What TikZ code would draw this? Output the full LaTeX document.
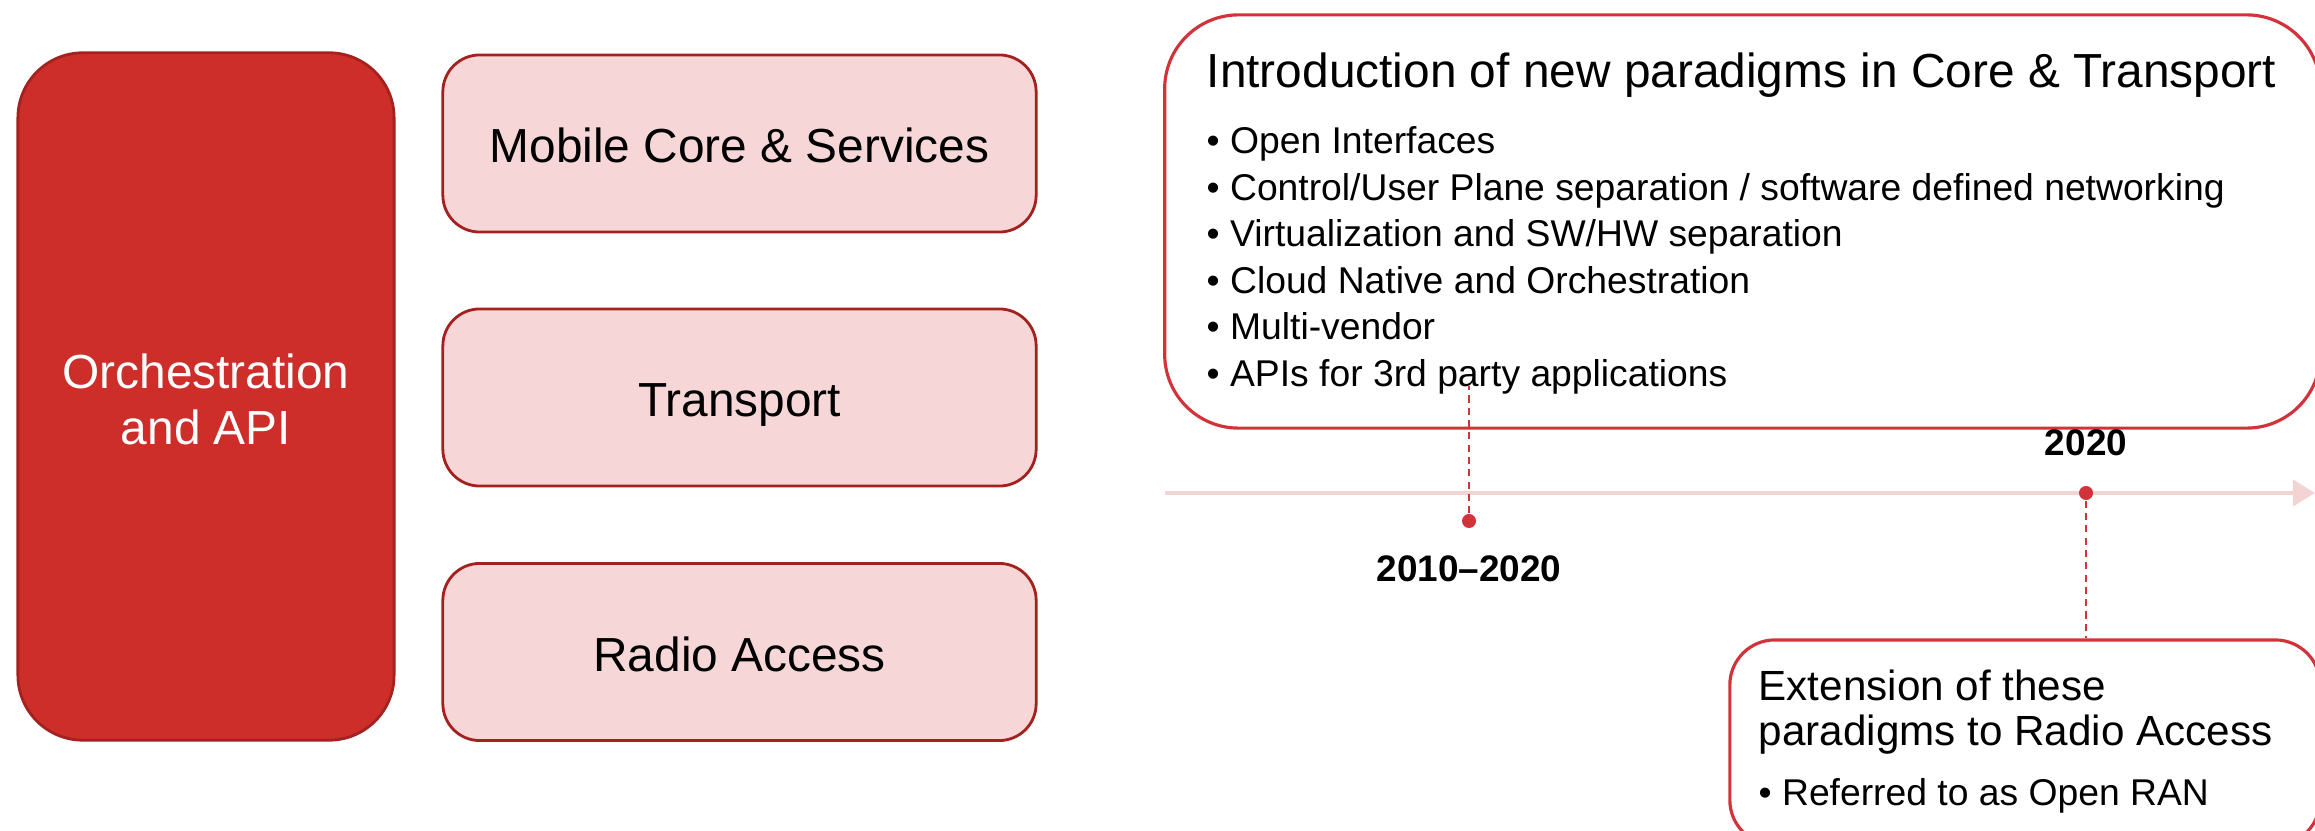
\documentclass[tikz,border=0pt]{standalone}
\usepackage{fontspec}
\setmainfont{Liberation Sans}
\usetikzlibrary{positioning,arrows.meta}
\definecolor{oranred}{HTML}{CD2E2A}
\definecolor{orandark}{HTML}{A32220}
\definecolor{oranpink}{HTML}{F6D6D6}
\definecolor{oranline}{HTML}{D2333A}
\definecolor{orantrack}{HTML}{F3D3D3}
\tikzset{
  layer/.style={draw=orandark,fill=oranpink,line width=0.8pt,rounded corners=10.5pt,minimum width=5.93cm,minimum height=1.77cm,text height=10.9pt,text depth=0pt,font=\fontsize{13.6}{16}\selectfont},
  callout/.style={draw=oranline,line width=0.9pt,fill=white},
  bigtext/.style={anchor=base west,inner sep=0pt,font=\fontsize{13.6}{16}\selectfont},
  midtext/.style={anchor=base west,inner sep=0pt,font=\fontsize{12}{14}\selectfont},
  bullet/.style={anchor=base west,inner sep=0pt,font=\fontsize{10.6}{13}\selectfont},
  year/.style={inner sep=0pt,font=\fontsize{10.5}{12}\selectfont\bfseries},
  milestone/.style={circle,fill=oranline,inner sep=0pt,minimum size=0.14cm},
  link/.style={oranline,line width=0.5pt,dash pattern=on 2pt off 1.5pt}
}
\begin{document}
\begin{tikzpicture}[x=0.01cm,y=-0.01cm]
  \useasboundingbox (0,0) rectangle (2315,831);
  \clip (0,0) rectangle (2315,831);
  \node[draw=orandark,fill=oranred,line width=0.8pt,rounded corners=18.5pt,minimum width=3.76cm,minimum height=6.87cm] (orch) at (206,396.5) {};
  \node[text=white,align=center,font=\fontsize{13.6}{15.9}\selectfont] (orchlabel) at (206,399.5) {Orchestration\\and API};
  \node[layer] (core) at (739.5,143.5) {Mobile Core \& Services};
  \node[layer] (transport) at (739.5,397.5) {Transport};
  \node[layer] (ran) at (739.5,652) {Radio Access};

  \node[callout,rounded corners=21pt,minimum width=11.55cm,minimum height=4.13cm] (intro) at (1742.5,221.5) {};
  \node[bigtext] (title) at (1206,88) {Introduction of new paradigms in Core \& Transport};
  \foreach \t [count=\i] in {Open Interfaces,Control/User Plane separation / software defined networking,Virtualization and SW/HW separation,Cloud Native and Orchestration,Multi-vendor,APIs for 3rd party applications}
    \node[bullet] (pt\i) at (1206,107.5+46.5*\i) {• \t};

  \node[callout,rounded corners=12.8pt,minimum width=5.9cm,minimum height=2.05cm] (ext) at (2025,742.5) {};
  \node[midtext] (ext1) at (1758,701) {Extension of these};
  \node[midtext] (ext2) at (1758,745) {paradigms to Radio Access};
  \node[bullet] (ext3) at (1758,805) {• Referred to as Open RAN};

  \coordinate (tstart) at (1165,493);
  \coordinate (tend) at (2315,493);
  \draw[orantrack,line width=1.25pt,-{Triangle[length=6.3pt,width=7.4pt]}] (tstart) -- (tend);
  \node[milestone] (m2010) at (1469,521) {};
  \node[milestone] (m2020) at (2086,493) {};
  \node[year,below=0.26cm of m2010] (y2010) {2010--2020};
  \node[year,above=0.29cm of m2020] (y2020) {2020};
  \draw[link] (m2010) -- (pt6.base -| m2010);
  \draw[link] (m2020) -- (ext.north -| m2020);
\end{tikzpicture}
\end{document}
